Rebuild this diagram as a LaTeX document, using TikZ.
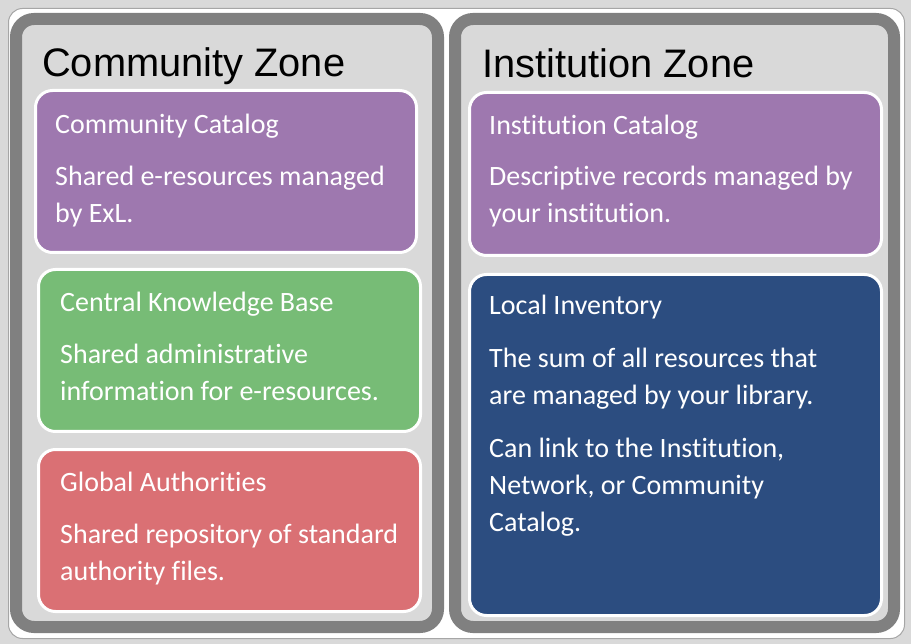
\documentclass[tikz,border=0pt]{standalone}
\usepackage{fontspec}
\setmainfont{Carlito}[Ligatures=NoCommon]
\newfontfamily\zonefont{Liberation Sans}
\usepackage{tikz}

\definecolor{bggray}{HTML}{D9D9D9}
\definecolor{rimgray}{HTML}{A6A6A6}
\definecolor{zonegray}{HTML}{808080}
\definecolor{catpurple}{HTML}{9E78AF}
\definecolor{kbgreen}{HTML}{77BC76}
\definecolor{authred}{HTML}{DA7074}
\definecolor{invblue}{HTML}{2C4D80}

\begin{document}
\begin{tikzpicture}[x=1pt,y=-1pt,
    zone/.style={draw=zonegray,fill=bggray,line width=12pt,rounded corners=18pt},
    card/.style={draw=white,fill=#1,line width=3pt,rounded corners=17pt},
    zonetitle/.style={anchor=base west,inner sep=0pt,font=\zonefont\fontsize{39.8}{46}\selectfont},
    cardtext/.style={anchor=base west,inner sep=0pt,align=left,text=white,
      font=\fontsize{28}{37}\selectfont}]
      \useasboundingbox (0,0) rectangle (911,644);
      \fill[bggray] (0,0) rectangle (911,644);
      \draw[rimgray,fill=white,line width=1pt,rounded corners=14pt] (8.5,8.5) rectangle (904.5,638.5);

      % the two zones
      \draw[zone] (16,19) rectangle (438,627);
      \draw[zone] (455,19) rectangle (894,627);
      \node[zonetitle] (czone) at (42,77) {Community Zone};
      \node[zonetitle] (izone) at (482,78) {Institution Zone};

      % community zone (multi-line texts sit on their last baseline)
      \draw[card=catpurple] (35.5,90.5) rectangle (416.5,252.5);
      \node[cardtext] (cctitle) at (55,134) {Community Catalog};
      \node[cardtext] (cctext) at (55,223) {Shared e-resources managed\\by ExL.};

      \draw[card=kbgreen] (38.5,269.5) rectangle (420.5,431.5);
      \node[cardtext] (kbtitle) at (60,312) {Central Knowledge Base};
      \node[cardtext] (kbtext) at (60,401) {Shared administrative\\information for e-resources.};

      \draw[card=authred] (38.5,449.5) rectangle (420.5,611.5);
      \node[cardtext] (gatitle) at (60,491) {Global Authorities};
      \node[cardtext] (gatext) at (60,580) {Shared repository of standard\\authority files.};

      % institution zone
      \draw[card=catpurple] (469.5,92.5) rectangle (881.5,255.5);
      \node[cardtext] (ictitle) at (489,135) {Institution Catalog};
      \node[cardtext] (ictext) at (489,223) {Descriptive records managed by\\your institution.};

      \draw[card=invblue] (469.5,274.5) rectangle (881.5,615.5);
      \node[cardtext] (lititle) at (489,315) {Local Inventory};
      \node[cardtext] (litext) at (489,405) {The sum of all resources that\\are managed by your library.};
      \node[cardtext] (lilink) at (489,531) {Can link to the Institution,\\Network, or Community\\Catalog.};
\end{tikzpicture}
\end{document}
